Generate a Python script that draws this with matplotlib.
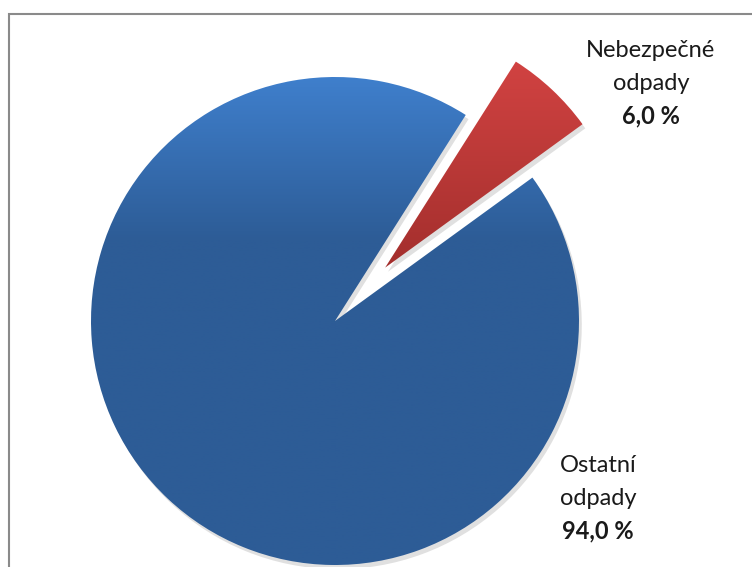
import numpy as np
import matplotlib
matplotlib.use('Agg')
import matplotlib.pyplot as plt
from matplotlib.patches import Rectangle
from matplotlib.colors import LinearSegmentedColormap
import matplotlib.patheffects as pe

plt.rcParams['font.family'] = ['Lato', 'DejaVu Sans']

categories = ['Nebezpečné\nodpady', 'Ostatní\nodpady']
shares = [6.0, 94.0]
explode = [0.3, 0.0]
colors_top = ['#d44443', '#3f7fcc']
colors_bottom = ['#a22e2c', '#2d5c96']

W, H = 752, 567
fig = plt.figure(figsize=(W / 100, H / 100), dpi=100)
ax = fig.add_axes([0, 0, 1, 1])

# pie laid out in pixel units (y up)
cx, cy, r = 335, 246, 244
wedges, _ = ax.pie(shares, explode=[e * r for e in explode], startangle=36,
                   counterclock=True, center=(cx, cy), radius=r, frame=True,
                   wedgeprops=dict(linewidth=0))
ax.set_xlim(0, W)
ax.set_ylim(0, H)
ax.set_aspect('equal')
ax.axis('off')

# vertical gradient fill clipped to each wedge, with a soft drop shadow
grad = np.linspace(0, 1, 256).reshape(-1, 1)
for w, ctop, cbot, ex in zip(wedges, colors_top, colors_bottom, explode):
    w.set_facecolor('none')
    w.set_path_effects([pe.SimplePatchShadow(offset=(2, -3), shadow_rgbFace='#909090', alpha=0.28),
                        pe.Normal()])
    x0, y0 = w.center
    if ex > 0:
        cmap = LinearSegmentedColormap.from_list('g', [cbot, ctop])
        ext = [x0 - 10, x0 + r, y0 - 5, y0 + r * 0.9]
    else:
        cmap = LinearSegmentedColormap.from_list('g', [cbot, cbot, cbot, ctop])
        ext = [x0 - r, x0 + r, y0 - r, y0 + r]
    img = ax.imshow(grad, cmap=cmap, origin='lower', aspect='auto', extent=ext, zorder=2)
    img.set_clip_path(w)

ax.set_xlim(0, W)
ax.set_ylim(0, H)

# data labels: (center x, first baseline from top)
label_pos = [(651, 57), (598, 472)]
step = 33
for (lx, ly), name, val in zip(label_pos, categories, shares):
    lines = name.split('\n')
    for i, line in enumerate(lines):
        ax.text(lx, H - (ly + i * step), line, ha='center', va='baseline',
                fontsize=17, color='#1a1a1a', zorder=5)
    ax.text(lx, H - (ly + len(lines) * step), f'{val:.1f} %'.replace('.', ','),
            ha='center', va='baseline', fontsize=17, fontweight='bold',
            color='#1a1a1a', zorder=5)

# chart frame
fig.patches.append(Rectangle((9, -10), W + 10, H - 14 + 10, transform=None,
                             fill=False, edgecolor='#8a8a8a', linewidth=1.5))

fig.savefig('out.png', dpi=100)
